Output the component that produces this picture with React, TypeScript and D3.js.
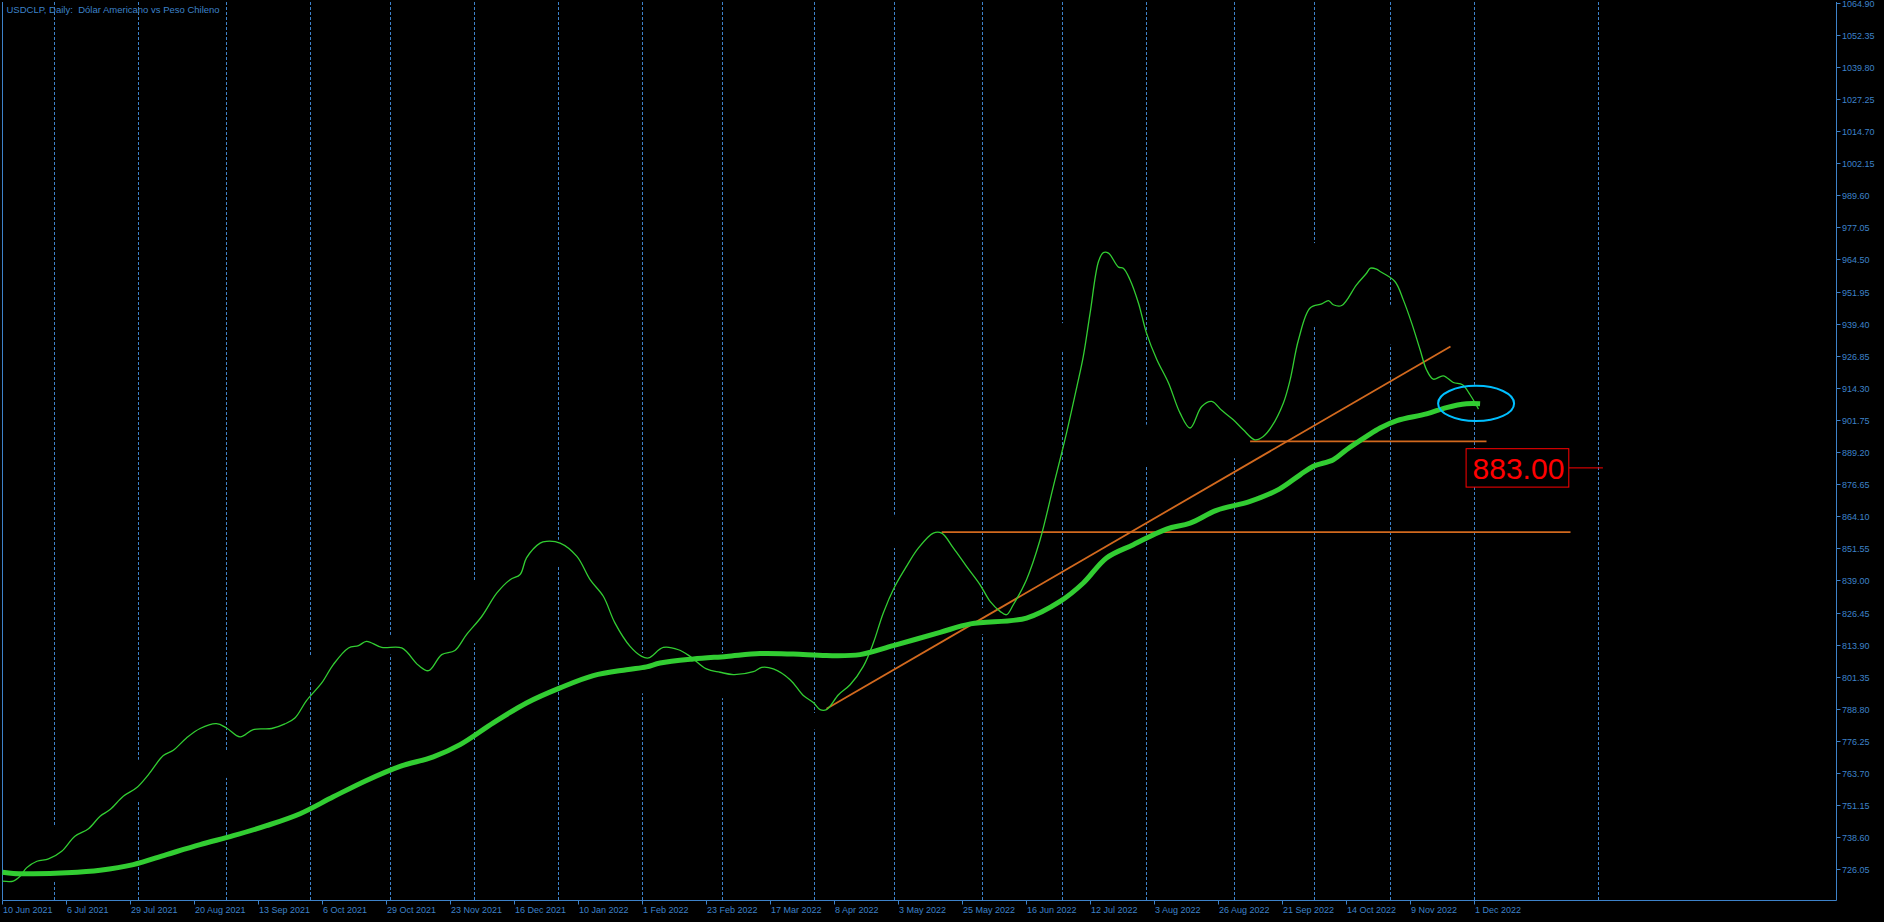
import React, { useEffect } from 'react';
import * as d3 from 'd3';

const W = 1884;
const H = 922;

const TITLE = 'USDCLP, Daily:  Dólar Americano vs Peso Chileno';

// time axis: one label every 16 daily bars, starting at bar 0
const DATE_LABELS = [
  '10 Jun 2021', '6 Jul 2021', '29 Jul 2021', '20 Aug 2021', '13 Sep 2021', '6 Oct 2021',
  '29 Oct 2021', '23 Nov 2021', '16 Dec 2021', '10 Jan 2022', '1 Feb 2022', '23 Feb 2022',
  '17 Mar 2022', '8 Apr 2022', '3 May 2022', '25 May 2022', '16 Jun 2022', '12 Jul 2022',
  '3 Aug 2022', '26 Aug 2022', '21 Sep 2022', '14 Oct 2022', '9 Nov 2022', '1 Dec 2022',
];
const LABEL_STEP = 16;

// bar index of each month start (dashed grid)
const MONTH_GRID_BARS = [13, 34, 56, 77, 97, 118, 139, 160, 180, 203, 223, 245, 265, 286, 308, 328, 347, 368, 399];
// high / low of the (black, hidden) price bar on each grid bar, which hides the grid there
const GRID_BAR_HIGH = [742.9, 768.9, 772.2, 809.3, 817.7, 838.6, 854.9, 810.6, 810.6, 787.2, 864.7, 828.2, 939.6, 899.9, 909.6, 970.9, 946.8, 915.5, 0];
const GRID_BAR_LOW = [721.4, 752.6, 761.8, 800.2, 810.0, 814.5, 844.5, 794.9, 793.0, 780.7, 851.7, 818.0, 928.5, 883.6, 886.8, 938.3, 931.2, 905.5, 0];

const PRICE_TICKS = [
  1064.9, 1052.35, 1039.8, 1027.25, 1014.7, 1002.15, 989.6, 977.05, 964.5, 951.95, 939.4, 926.85,
  914.3, 901.75, 889.2, 876.65, 864.1, 851.55, 839.0, 826.45, 813.9, 801.35, 788.8, 776.25,
  763.7, 751.15, 738.6, 726.05,
];

// fast (thin) moving average: [bar index, value]
const FAST_BARS = [
  0, 2.7, 4.4, 6, 8.6, 11.5, 14.8, 18.1, 21.5, 24.4, 26.9, 30.2, 33.5, 36.5, 40.2, 42.7, 46, 49.4,
  53.5, 56, 59.4, 62.7, 67.3, 70.6, 73.1, 76, 79.8, 82.7, 86.5, 89, 91, 94.8, 99.8, 104, 106.5,
  109.8, 113.1, 116, 119.8, 123.6, 126.9, 129.4, 131, 134.4, 136, 139.4, 143.6, 146.9, 150.2,
  153.1, 156.9, 159.8, 161.5, 165.2, 169, 171.9, 176, 179.4, 182.7, 187.7, 189.8, 192.7, 196.9,
  200.2, 202.7, 204.4, 206, 209, 211.9, 215.2, 217.7, 220.2, 223.1, 226, 229, 232.7, 234.8, 237.7,
  241, 244.4, 246.9, 249.4, 251, 252.7, 256, 259.4, 262.7, 266, 268.6, 270.2, 271.9, 274, 275.2,
  276.5, 279, 280.2, 281.9, 284, 286, 288.6, 291.5, 294.4, 296.9, 299.8, 302.3, 304.8, 307.7,
  310.2, 313.1, 315.2, 317.3, 320.2, 321.9, 324, 326.9, 329.8, 331.5, 332.7, 334.8, 338.5, 341,
  342, 343.5, 344.4, 348.1, 350.2, 352.3, 354.4, 356, 357.7, 360.2, 362.7, 365, 366.9, 369,
];
const FAST_VALUES = [
  721.4, 721.4, 723.3, 726.6, 729.2, 730.1, 733.1, 739.0, 741.9, 746.8, 749.4, 754.6, 757.9, 763.1,
  770.5, 772.6, 777.4, 781.1, 783.0, 781.3, 777.8, 780.7, 781.1, 782.9, 785.2, 792.0, 798.9, 806.1,
  812.6, 813.5, 815.2, 812.8, 812.6, 805.8, 803.7, 810.0, 811.6, 817.8, 824.9, 834.1, 839.3, 841.3,
  847.8, 853.6, 854.3, 853.6, 848.4, 839.3, 832.8, 822.4, 813.2, 809.3, 808.7, 812.8, 811.9, 809.3,
  804.4, 803.1, 802.2, 803.3, 805.0, 804.4, 800.2, 794.0, 791.3, 788.5, 788.5, 794.3, 798.2, 805.4,
  814.5, 826.3, 836.7, 844.5, 851.7, 857.5, 857.5, 851.7, 844.5, 837.3, 830.8, 826.9, 825.6, 829.5,
  839.3, 854.9, 875.7, 896.6, 914.8, 926.6, 943.5, 963.7, 967.2, 967.0, 961.5, 961.1, 956.5, 947.4,
  935.7, 925.3, 916.2, 904.4, 898.6, 907.0, 909.0, 905.5, 901.8, 897.9, 894.0, 895.3, 899.2, 908.3,
  917.4, 933.1, 945.5, 947.1, 948.4, 946.8, 946.5, 954.6, 959.1, 961.1, 960.7, 959.8, 955.9, 948.7,
  939.6, 929.2, 921.4, 917.7, 919.0, 916.4, 915.5, 911.6, 906.0,
];

// slow (thick) moving average: [bar index, value]
const SLOW_BARS = [
  0, 2.7, 7.7, 16, 24.4, 32.7, 41, 49.4, 57.7, 66, 74.4, 82.7, 91, 99.4, 107.7, 114.4, 122.7, 131,
  139.4, 147.7, 156, 161, 164.4, 172.7, 181, 189.4, 197.7, 206, 214.4, 222.7, 234.4, 242, 256,
  264.4, 270.2, 276, 282.7, 291, 296.9, 303.5, 311.9, 319.2, 324.4, 327.7, 332.7, 336, 341, 344.4,
  348.6, 356, 361, 366, 369.4,
];
const SLOW_VALUES = [
  724.9, 724.4, 724.3, 724.7, 725.7, 727.9, 731.8, 735.7, 739.2, 743.1, 747.8, 754.4, 760.8, 766.3,
  770.0, 774.8, 783.3, 791.1, 797.0, 801.8, 804.1, 805.2, 806.7, 808.3, 809.3, 810.4, 810.2, 809.6,
  810.0, 813.5, 818.7, 822.0, 824.3, 830.8, 838.0, 847.8, 853.0, 859.1, 861.4, 866.4, 869.9, 874.7,
  880.3, 883.6, 886.2, 890.1, 895.3, 898.6, 901.5, 904.1, 906.6, 908.1, 908.1,
];

// hand-drawn objects
const TREND_FROM_BAR = [206, 234.8, 311.9];
const TREND_FROM_VAL = [788.8, 857.9, 893.4];
const TREND_TO_BAR = [362, 392, 371];
const TREND_TO_VAL = [930.5, 857.9, 893.4];

const ELLIPSE_BARS = [358.9, 377.9];
const ELLIPSE_VALS = [901.3, 915.1];

const PRICE_MARK = 883.0;
const PRICE_MARK_TEXT = '883.00';
const PRICE_MARK_BARS = [365.9, 400.1];

const AXIS_COLOR = '#3d82c9';
const GREEN = '#32CD32';
const ORANGE = '#D2691E';
const FONT = '"Liberation Sans", Arial, sans-serif';

export default function App() {
  useEffect(() => {
    document.body.style.margin = '0';
    document.body.style.background = '#000';
  }, []);

  const x = d3.scaleLinear().domain([0, 458.5]).range([2.5, 1836.5]);
  const y = d3.scaleLinear().domain([726.05, 1064.9]).range([869.3, 2.7]);

  const plotLeft = 2.5;
  const plotRight = 1836.5;
  const plotTop = 2;
  const plotBottom = 900.5;

  const fast = FAST_BARS.map((b, i) => [b, FAST_VALUES[i]] as [number, number]);
  const slow = SLOW_BARS.map((b, i) => [b, SLOW_VALUES[i]] as [number, number]);

  const line = d3
    .line<[number, number]>()
    .x((d) => x(d[0]))
    .y((d) => y(d[1]))
    .curve(d3.curveCatmullRom.alpha(0.5));

  const ex0 = x(ELLIPSE_BARS[0]);
  const ex1 = x(ELLIPSE_BARS[1]);
  const ey0 = y(ELLIPSE_VALS[1]);
  const ey1 = y(ELLIPSE_VALS[0]);

  const markY = y(PRICE_MARK);
  const boxX0 = x(PRICE_MARK_BARS[0]);
  const boxW = 102.7;
  const boxH = 38.4;

  return (
    <svg
      width={W}
      height={H}
      style={{ position: 'absolute', left: 0, top: 0, background: '#000', display: 'block' }}
    >
      <rect x={0} y={0} width={W} height={H} fill="#000" />

      {/* month grid */}
      {MONTH_GRID_BARS.map((b) => (
        <line
          key={'g' + b}
          x1={x(b)}
          x2={x(b)}
          y1={plotTop}
          y2={plotBottom}
          stroke={AXIS_COLOR}
          strokeWidth={1}
          strokeDasharray="3,2"
        />
      ))}
      {/* hidden black price bars covering the grid */}
      {MONTH_GRID_BARS.map((b, i) =>
        GRID_BAR_HIGH[i] > 0 ? (
          <rect
            key={'gb' + b}
            x={x(b) - 1.5}
            width={3}
            y={y(GRID_BAR_HIGH[i])}
            height={y(GRID_BAR_LOW[i]) - y(GRID_BAR_HIGH[i])}
            fill="#000"
          />
        ) : null
      )}

      {/* frame */}
      <line x1={plotLeft} x2={plotLeft} y1={plotTop} y2={plotBottom} stroke={AXIS_COLOR} strokeWidth={1} />
      <line x1={plotRight} x2={plotRight} y1={plotTop} y2={plotBottom} stroke={AXIS_COLOR} strokeWidth={1} />
      <line x1={plotLeft} x2={plotRight} y1={plotBottom} y2={plotBottom} stroke={AXIS_COLOR} strokeWidth={1} />

      {/* price axis */}
      {PRICE_TICKS.map((v) => {
        const yy = Math.round(y(v)) + 0.5;
        return (
          <g key={'p' + v}>
            <line x1={plotRight} x2={plotRight + 4} y1={yy} y2={yy} stroke={AXIS_COLOR} strokeWidth={1} />
            <text
              x={plotRight + 5.5}
              y={yy}
              dy="0.35em"
              fill={AXIS_COLOR}
              fontFamily={FONT}
              fontSize={9}
            >
              {v.toFixed(2)}
            </text>
          </g>
        );
      })}

      {/* time axis */}
      {DATE_LABELS.map((lab, i) => {
        const xx = x(i * LABEL_STEP);
        return (
          <g key={'t' + i}>
            <line x1={xx} x2={xx} y1={plotBottom} y2={plotBottom + 4} stroke={AXIS_COLOR} strokeWidth={1} />
            <text x={xx + 0.5} y={913} fill={AXIS_COLOR} fontFamily={FONT} fontSize={9}>
              {lab}
            </text>
          </g>
        );
      })}

      {/* title */}
      <text x={6.5} y={13} fill={AXIS_COLOR} fontFamily={FONT} fontSize={9.5} style={{ whiteSpace: 'pre' }}>
        {TITLE}
      </text>

      {/* trendlines */}
      {TREND_FROM_BAR.map((b, i) => (
        <line
          key={'tr' + i}
          x1={x(b)}
          y1={y(TREND_FROM_VAL[i])}
          x2={x(TREND_TO_BAR[i])}
          y2={y(TREND_TO_VAL[i])}
          stroke={ORANGE}
          strokeWidth={1.8}
        />
      ))}

      {/* moving averages */}
      <path d={line(slow) || ''} fill="none" stroke={GREEN} strokeWidth={5} strokeLinejoin="round" />
      <path d={line(fast) || ''} fill="none" stroke={GREEN} strokeWidth={1.3} strokeLinejoin="round" />

      {/* ellipse */}
      <ellipse
        cx={(ex0 + ex1) / 2}
        cy={(ey0 + ey1) / 2}
        rx={(ex1 - ex0) / 2}
        ry={(ey1 - ey0) / 2}
        fill="none"
        stroke="#00BFFF"
        strokeWidth={2}
      />

      {/* price mark label */}
      <line x1={boxX0 + boxW} x2={x(PRICE_MARK_BARS[1])} y1={markY} y2={markY} stroke="#FF0000" strokeWidth={1} />
      <rect
        x={boxX0}
        y={markY - boxH / 2}
        width={boxW}
        height={boxH}
        fill="#000"
        stroke="#FF0000"
        strokeWidth={1}
      />
      <text
        x={boxX0 + boxW / 2 + 1}
        y={markY + 11.5}
        textAnchor="middle"
        fill="#FF0000"
        fontFamily={FONT}
        fontSize={30}
      >
        {PRICE_MARK_TEXT}
      </text>
    </svg>
  );
}
